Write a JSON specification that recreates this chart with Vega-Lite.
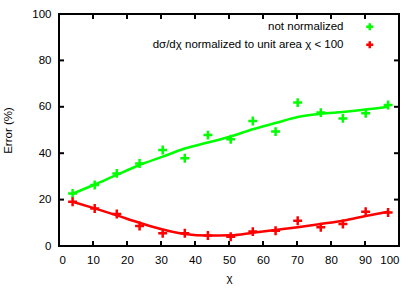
{
  "$schema": "https://vega.github.io/schema/vega-lite/v6.json",
  "width": 340,
  "height": 232,
  "autosize": "none",
  "padding": {"left": 59, "top": 14, "right": 20, "bottom": 47},
  "background": "white",
  "config": {
    "font": "Liberation Sans",
    "view": {"stroke": "black", "strokeWidth": 2},
    "axis": {"domain": false, "grid": false, "labelColor": "black", "labelFontSize": 11.5, "labelFont": "Liberation Sans", "titleFont": "Liberation Sans", "titleFontWeight": "normal", "titleFontSize": 11.5, "titleColor": "black"}
  },
  "resolve": {"axis": {"x": "independent", "y": "independent"}},
  "datasets": {
    "xt": [{"v": 10}, {"v": 20}, {"v": 30}, {"v": 40}, {"v": 50}, {"v": 60}, {"v": 70}, {"v": 80}, {"v": 90}],
    "yt": [{"v": 20}, {"v": 40}, {"v": 60}, {"v": 80}],
    "pts": [
      {"chi": 4, "err": 22.6, "series": "not normalized"},
      {"chi": 10.5, "err": 26.3, "series": "not normalized"},
      {"chi": 17, "err": 31.3, "series": "not normalized"},
      {"chi": 23.7, "err": 35.6, "series": "not normalized"},
      {"chi": 30.5, "err": 41.4, "series": "not normalized"},
      {"chi": 37, "err": 37.8, "series": "not normalized"},
      {"chi": 43.8, "err": 47.8, "series": "not normalized"},
      {"chi": 50.5, "err": 46.0, "series": "not normalized"},
      {"chi": 57, "err": 53.9, "series": "not normalized"},
      {"chi": 63.7, "err": 49.3, "series": "not normalized"},
      {"chi": 70.2, "err": 61.8, "series": "not normalized"},
      {"chi": 77, "err": 57.5, "series": "not normalized"},
      {"chi": 83.5, "err": 55.0, "series": "not normalized"},
      {"chi": 90.2, "err": 57.2, "series": "not normalized"},
      {"chi": 96.8, "err": 60.8, "series": "not normalized"},
      {"chi": 4, "err": 19.1, "series": "dσ/dχ normalized to unit area χ < 100"},
      {"chi": 10.5, "err": 16.2, "series": "dσ/dχ normalized to unit area χ < 100"},
      {"chi": 17, "err": 13.8, "series": "dσ/dχ normalized to unit area χ < 100"},
      {"chi": 23.7, "err": 8.6, "series": "dσ/dχ normalized to unit area χ < 100"},
      {"chi": 30.5, "err": 5.5, "series": "dσ/dχ normalized to unit area χ < 100"},
      {"chi": 37, "err": 5.5, "series": "dσ/dχ normalized to unit area χ < 100"},
      {"chi": 43.8, "err": 4.5, "series": "dσ/dχ normalized to unit area χ < 100"},
      {"chi": 50.5, "err": 4.0, "series": "dσ/dχ normalized to unit area χ < 100"},
      {"chi": 57, "err": 6.2, "series": "dσ/dχ normalized to unit area χ < 100"},
      {"chi": 63.7, "err": 6.6, "series": "dσ/dχ normalized to unit area χ < 100"},
      {"chi": 70.2, "err": 10.9, "series": "dσ/dχ normalized to unit area χ < 100"},
      {"chi": 77, "err": 8.1, "series": "dσ/dχ normalized to unit area χ < 100"},
      {"chi": 83.5, "err": 9.5, "series": "dσ/dχ normalized to unit area χ < 100"},
      {"chi": 90.2, "err": 14.8, "series": "dσ/dχ normalized to unit area χ < 100"},
      {"chi": 96.8, "err": 14.4, "series": "dσ/dχ normalized to unit area χ < 100"}
    ],
    "fit": [
      {"chi": 4, "err": 22.5, "series": "not normalized"},
      {"chi": 10.5, "err": 26.5, "series": "not normalized"},
      {"chi": 17, "err": 30.7, "series": "not normalized"},
      {"chi": 23.7, "err": 34.9, "series": "not normalized"},
      {"chi": 30.5, "err": 38.5, "series": "not normalized"},
      {"chi": 37, "err": 42.0, "series": "not normalized"},
      {"chi": 43.8, "err": 44.6, "series": "not normalized"},
      {"chi": 50.5, "err": 47.2, "series": "not normalized"},
      {"chi": 57, "err": 50.3, "series": "not normalized"},
      {"chi": 63.7, "err": 53.0, "series": "not normalized"},
      {"chi": 70.2, "err": 55.6, "series": "not normalized"},
      {"chi": 77, "err": 57.0, "series": "not normalized"},
      {"chi": 83.5, "err": 57.8, "series": "not normalized"},
      {"chi": 90.2, "err": 58.8, "series": "not normalized"},
      {"chi": 96.8, "err": 60.0, "series": "not normalized"},
      {"chi": 4, "err": 19.1, "series": "dσ/dχ normalized to unit area χ < 100"},
      {"chi": 10.5, "err": 16.2, "series": "dσ/dχ normalized to unit area χ < 100"},
      {"chi": 17, "err": 13.2, "series": "dσ/dχ normalized to unit area χ < 100"},
      {"chi": 23.7, "err": 10.0, "series": "dσ/dχ normalized to unit area χ < 100"},
      {"chi": 30.5, "err": 7.1, "series": "dσ/dχ normalized to unit area χ < 100"},
      {"chi": 37, "err": 5.2, "series": "dσ/dχ normalized to unit area χ < 100"},
      {"chi": 43.8, "err": 4.5, "series": "dσ/dχ normalized to unit area χ < 100"},
      {"chi": 50.5, "err": 4.6, "series": "dσ/dχ normalized to unit area χ < 100"},
      {"chi": 57, "err": 5.7, "series": "dσ/dχ normalized to unit area χ < 100"},
      {"chi": 63.7, "err": 6.9, "series": "dσ/dχ normalized to unit area χ < 100"},
      {"chi": 70.2, "err": 8.1, "series": "dσ/dχ normalized to unit area χ < 100"},
      {"chi": 77, "err": 9.5, "series": "dσ/dχ normalized to unit area χ < 100"},
      {"chi": 83.5, "err": 10.9, "series": "dσ/dχ normalized to unit area χ < 100"},
      {"chi": 90.2, "err": 12.9, "series": "dσ/dχ normalized to unit area χ < 100"},
      {"chi": 96.8, "err": 14.8, "series": "dσ/dχ normalized to unit area χ < 100"}
    ]
  },
  "layer": [
    {
      "data": {"name": "pts"},
      "mark": {"type": "point", "shape": "M-1,0H1M0,-1V1", "size": 80, "strokeWidth": 2.5, "filled": false, "opacity": 1},
      "encoding": {
        "x": {"field": "chi", "type": "quantitative", "scale": {"domain": [0, 100], "nice": false}, "axis": {"orient": "bottom", "title": "χ", "values": [0,10,20,30,40,50,60,70,80,90,100], "titlePadding": 7, "ticks": false, "labelPadding": 8}},
        "y": {"field": "err", "type": "quantitative", "scale": {"domain": [0, 100], "nice": false}, "axis": {"orient": "left", "title": "Error (%)", "values": [0,20,40,60,80,100], "titlePadding": 18, "ticks": false, "labelPadding": 8}},
        "color": {"field": "series", "type": "nominal", "scale": {"domain": ["not normalized", "dσ/dχ normalized to unit area χ < 100"], "range": ["#00ff00", "#ff0000"]}, "legend": {"title": null, "orient": "none", "legendX": 305, "legendY": 7, "padding": 0, "labelAlign": "right", "labelOffset": -32, "labelFontSize": 11.5, "labelColor": "black", "rowPadding": 0, "symbolStrokeWidth": 2.5, "symbolSize": 50, "symbolType": "M-1,0H1M0,-1V1", "symbolFillColor": "transparent", "labelLimit": 400}}
      }
    },
    {
      "data": {"name": "fit"},
      "mark": {"type": "line", "strokeWidth": 2.5, "interpolate": "monotone"},
      "encoding": {
        "x": {"field": "chi", "type": "quantitative", "axis": null},
        "y": {"field": "err", "type": "quantitative", "axis": null},
        "color": {"field": "series", "type": "nominal"}
      }
    },
    {
      "data": {"name": "xt"},
      "mark": {"type": "tick", "orient": "vertical", "size": 5, "thickness": 2, "color": "black", "opacity": 1, "yOffset": -2.5},
      "encoding": {
        "x": {"field": "v", "type": "quantitative", "axis": null},
        "y": {"datum": 0, "type": "quantitative", "axis": null}
      }
    },
    {
      "data": {"name": "xt"},
      "mark": {"type": "tick", "orient": "vertical", "size": 5, "thickness": 2, "color": "black", "opacity": 1, "yOffset": 2.5},
      "encoding": {
        "x": {"field": "v", "type": "quantitative", "axis": null},
        "y": {"datum": 100, "type": "quantitative", "axis": null}
      }
    },
    {
      "data": {"name": "yt"},
      "mark": {"type": "tick", "orient": "horizontal", "size": 5, "thickness": 2, "color": "black", "opacity": 1, "xOffset": 2.5},
      "encoding": {
        "y": {"field": "v", "type": "quantitative", "axis": null},
        "x": {"datum": 0, "type": "quantitative", "axis": null}
      }
    },
    {
      "data": {"name": "yt"},
      "mark": {"type": "tick", "orient": "horizontal", "size": 5, "thickness": 2, "color": "black", "opacity": 1, "xOffset": -2.5},
      "encoding": {
        "y": {"field": "v", "type": "quantitative", "axis": null},
        "x": {"datum": 100, "type": "quantitative", "axis": null}
      }
    }
  ]
}
